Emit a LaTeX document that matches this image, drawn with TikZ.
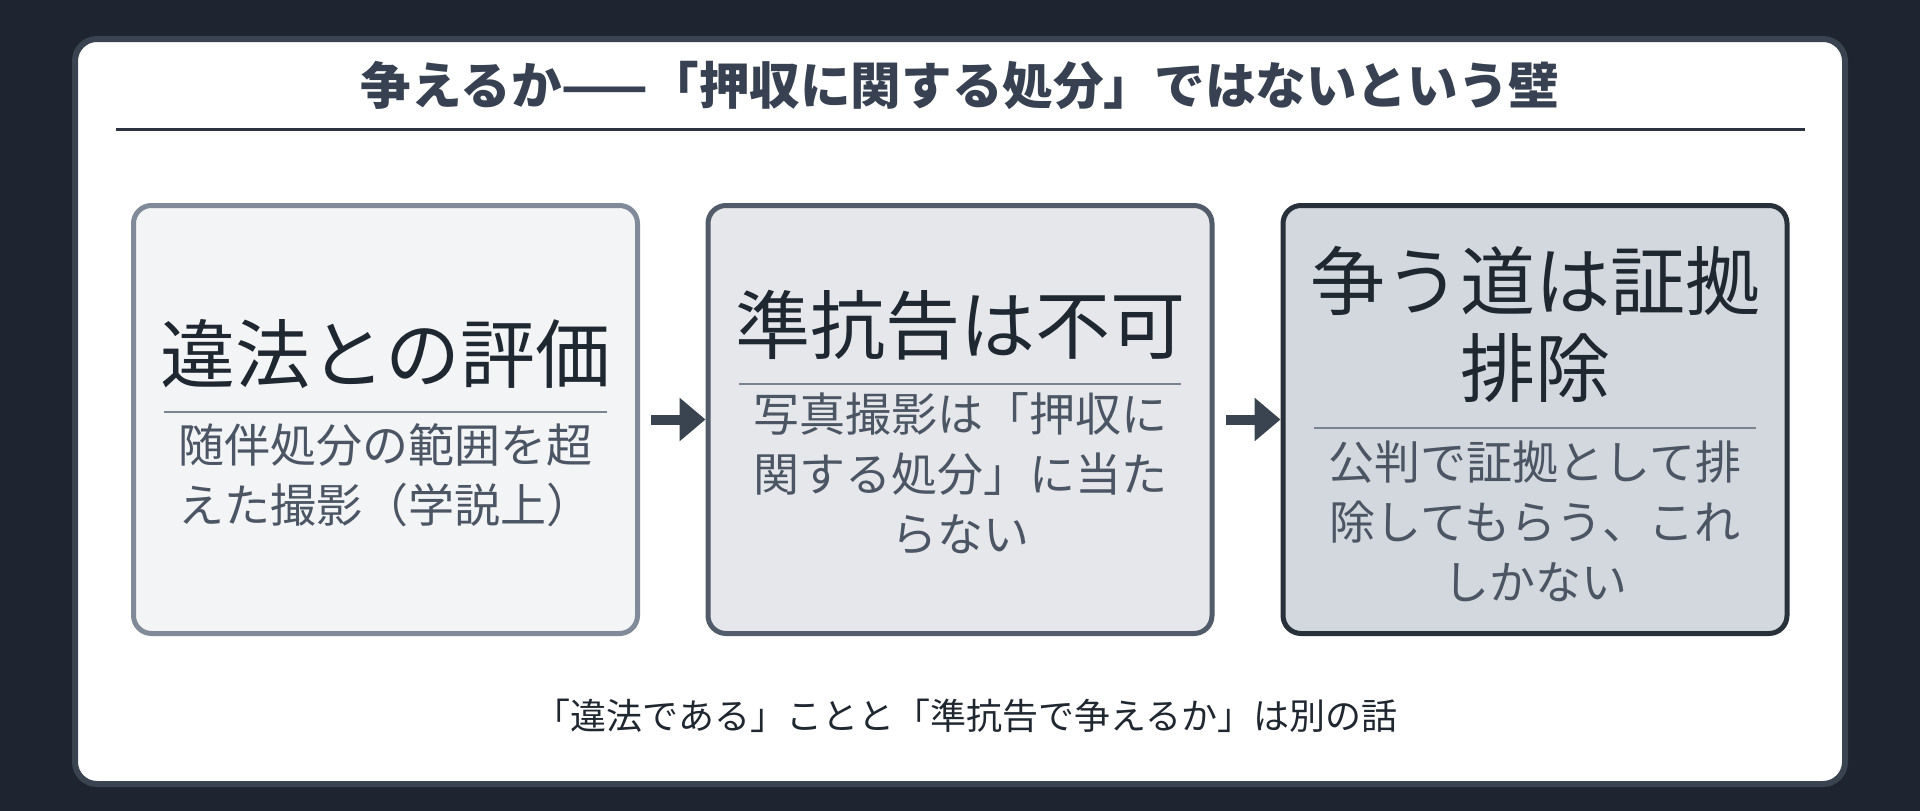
\documentclass[tikz,border=0pt]{standalone}
\usepackage{fontspec}
\setmainfont{Noto Sans CJK JP}
\usetikzlibrary{arrows.meta}
\definecolor{bgc}{HTML}{1E2530}
\definecolor{panelc}{HTML}{3A4350}
\definecolor{titlec}{HTML}{374151}
\definecolor{ulinec}{HTML}{2B3340}
\definecolor{fillA}{HTML}{F3F4F6}
\definecolor{drawA}{HTML}{808A98}
\definecolor{fillB}{HTML}{E5E7EB}
\definecolor{drawB}{HTML}{525B69}
\definecolor{fillC}{HTML}{D3D8DF}
\definecolor{drawC}{HTML}{283039}
\definecolor{headc}{HTML}{1F2731}
\definecolor{subc}{HTML}{4B5563}
\definecolor{divc}{HTML}{7A8390}
\definecolor{arrc}{HTML}{3A4350}
\tikzset{
  panelbox/.style={draw=panelc, line width=6pt, fill=white, rounded corners=22pt,
    minimum width=1770pt, minimum height=745pt, inner sep=0pt},
  cardbox/.style={line width=5pt, rounded corners=18pt, minimum width=504pt,
    minimum height=428pt, inner sep=0pt},
  cardA/.style={cardbox, draw=drawA, fill=fillA},
  cardB/.style={cardbox, draw=drawB, fill=fillB},
  cardC/.style={cardbox, draw=drawC, fill=fillC},
  titletext/.style={text=titlec, inner sep=0pt, font=\fontsize{50.6}{60}\selectfont\bfseries},
  headtext/.style={text=headc, inner sep=0pt, align=center, font=\fontsize{75}{87}\selectfont},
  subtext/.style={text=subc, inner sep=0pt, align=center, font=\fontsize{46}{60}\selectfont},
  foottext/.style={text=headc, inner sep=0pt, font=\fontsize{36}{42}\selectfont},
  divline/.style={draw=divc, line width=2.5pt},
  uline/.style={draw=ulinec, line width=3pt},
  flowarrow/.style={draw=arrc, line width=10pt, -{Triangle[length=26pt,width=42pt]}, shorten <=11pt}
}
\begin{document}
\begin{tikzpicture}[x=1pt,y=-1pt]
\useasboundingbox (0,0) rectangle (1920,811);
\fill[bgc] (0,0) rectangle (1920,811);
\node[panelbox] (panel) at (960,411.5) {};
\node[titletext] (title) at (960,85) {争えるか——「押収に関する処分」ではないという壁};
\coordinate (ulL) at (116,129);
\coordinate (ulR) at (1805,129);
\draw[uline] (ulL) -- (ulR);

\node[cardA] (b1) at (385.5,419.5) {};
\node[cardB] (b2) at (960,419.5) {};
\node[cardC] (b3) at (1535,419.5) {};

\node[headtext] (h1) at (385.5,354) {違法との評価};
\coordinate (d1l) at (164,412);
\coordinate (d1r) at (607,412);
\draw[divline] (d1l) -- (d1r);
\node[subtext] (s1) at (385.5,475.5) {随伴処分の範囲を超\\えた撮影（学説上）};

\node[headtext] (h2) at (960,325) {準抗告は不可};
\coordinate (d2l) at (739,384);
\coordinate (d2r) at (1181,384);
\draw[divline] (d2l) -- (d2r);
\node[subtext] (s2) at (960,474) {写真撮影は「押収に\\関する処分」に当た\\らない};

\node[headtext] (h3) at (1535,324.5) {争う道は証拠\\排除};
\coordinate (d3l) at (1314,428);
\coordinate (d3r) at (1756,428);
\draw[divline] (d3l) -- (d3r);
\node[subtext] (s3) at (1535,521) {公判で証拠として排\\除してもらう、これ\\しかない};

\draw[flowarrow] (b1.east) -- (b2.west);
\draw[flowarrow] (b2.east) -- (b3.west);

\node[foottext] (foot) at (966,716) {「違法である」ことと「準抗告で争えるか」は別の話};
\end{tikzpicture}
\end{document}
